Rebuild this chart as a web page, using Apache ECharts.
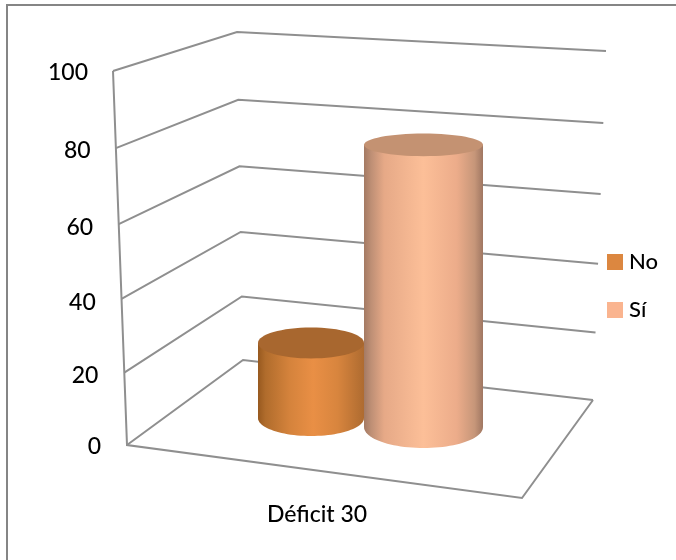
<!DOCTYPE html>
<html>
<head>
<meta charset="utf-8">
<style>html,body{margin:0;padding:0;background:#fff}#chart{width:676px;height:560px}</style>
<script src="https://cdn.jsdelivr.net/npm/echarts@6/dist/echarts.min.js"></script>
</head>
<body>
<div id="chart"></div>
<script>
const categories = ['Déficit 30'];
const noValues = [21];
const siValues = [79];
const tickValues = [0, 20, 40, 60, 80, 100];

const FONT = 'Lato';
const GRID = { left: 127, top: 71, width: 380, height: 374 };

// Corners of the three-dimensional box: [bottom, top] of each vertical edge.
const LEFT_EDGE = [[127, 445], [113, 71]];
const BACK_EDGE = [[243, 360], [237, 32]];
const RIGHT_EDGE = [[593, 400], [606, 51]];
const FRONT_RIGHT = [522, 498];

// Slight perspective compression of the height scale.
const warp = t => t - 0.04 * t * (1 - t);
const onEdge = (edge, t) => {
  const s = warp(t);
  return [edge[0][0] + (edge[1][0] - edge[0][0]) * s,
          edge[0][1] + (edge[1][1] - edge[0][1]) * s];
};

const lineStyle = { fill: 'none', stroke: '#8f8f8f', lineWidth: 2 };

function renderWall(params, api) {
  const v = api.value(1);
  const base = api.coord([0, 0])[1];
  const t = (base - api.coord([0, v])[1]) / GRID.height;
  const children = [{
    type: 'polyline',
    shape: { points: [onEdge(LEFT_EDGE, t), onEdge(BACK_EDGE, t), onEdge(RIGHT_EDGE, t)] },
    style: lineStyle
  }];
  if (v === 0) {
    children.push({
      type: 'polyline',
      shape: { points: [LEFT_EDGE[1], LEFT_EDGE[0], FRONT_RIGHT, RIGHT_EDGE[0]] },
      style: lineStyle
    });
  }
  return { type: 'group', children };
}

// Outline of a cylinder body: straight sides closed by the front half of the base ellipse.
function bodyOutline(cx, top, bottom, rx, ry) {
  const pts = [[cx - rx, top], [cx - rx, bottom]];
  for (let i = 1; i < 48; i++) {
    const a = Math.PI * i / 48;
    pts.push([cx - rx * Math.cos(a), bottom + ry * Math.sin(a)]);
  }
  pts.push([cx + rx, bottom], [cx + rx, top]);
  return pts;
}

function cylinder(look) {
  return function (params, api) {
    const c = api.coord([api.value(0), 0]);
    const h = api.size([0, api.value(1)])[1] * 0.955;
    const cx = c[0] + look.dx;
    const bottom = c[1] - look.rise;
    const top = bottom - h;
    const topRy = look.ry - h * 0.034;
    return {
      type: 'group',
      children: [{
        type: 'polygon',
        shape: { points: bodyOutline(cx, top, bottom, look.rx, look.ry) },
        style: {
          fill: new echarts.graphic.LinearGradient(0, 0, 1, 0, look.stops)
        }
      }, {
        type: 'ellipse',
        shape: { cx: cx, cy: top, rx: look.rx, ry: topRy },
        style: { fill: look.cap }
      }]
    };
  };
}

const noLook = {
  dx: -6, rise: 27, rx: 53, ry: 18, cap: '#A8672F',
  stops: [
    { offset: 0, color: '#97591F' }, { offset: 0.07, color: '#B06C2C' },
    { offset: 0.3, color: '#D5833C' }, { offset: 0.52, color: '#E98F45' },
    { offset: 0.75, color: '#D8853E' }, { offset: 1, color: '#AE6B30' }
  ]
};
const siLook = {
  dx: 106.5, rise: 18, rx: 59.5, ry: 21, cap: '#C49272',
  stops: [
    { offset: 0, color: '#A47A63' }, { offset: 0.06, color: '#BE8F75' },
    { offset: 0.17, color: '#E6A987' }, { offset: 0.5, color: '#FCBF98' },
    { offset: 0.78, color: '#ECAC8A' }, { offset: 0.93, color: '#C69679' },
    { offset: 1, color: '#A07762' }
  ]
};

const tickRich = {};
tickValues.forEach(v => {
  const t = v / 100;
  const down = 2 + 20 * t * (1 - t);
  tickRich['t' + v] = {
    fontFamily: FONT, fontSize: 23, fontWeight: 500, color: '#000',
    padding: [down * 2, 13 * t, 0, 0]
  };
});

const chart = echarts.init(document.getElementById('chart'), null, { renderer: 'canvas' });
chart.setOption({
  animation: false,
  backgroundColor: '#fff',
  grid: GRID,
  xAxis: {
    type: 'category',
    data: categories,
    axisLine: { show: false },
    axisTick: { show: false },
    axisLabel: { margin: 58, fontFamily: FONT, fontSize: 23, fontWeight: 500, color: '#000' }
  },
  yAxis: {
    type: 'value',
    min: 0,
    max: 100,
    interval: 20,
    axisLine: { show: false },
    axisTick: { show: false },
    splitLine: { show: false },
    axisLabel: { margin: 26, formatter: v => `{t${v}|${v}}`, rich: tickRich }
  },
  legend: {
    data: ['No', 'Sí'],
    orient: 'vertical',
    left: 607,
    top: 251,
    itemWidth: 16,
    itemHeight: 16,
    itemGap: 26,
    icon: 'rect',
    padding: 0,
    selectedMode: false,
    textStyle: { fontFamily: FONT, fontSize: 22, fontWeight: 500, color: '#000', padding: [0, 0, 0, 1] }
  },
  graphic: [
    { type: 'line', shape: { x1: 6, y1: 5, x2: 676, y2: 5 }, style: { stroke: '#858585', lineWidth: 2 } },
    { type: 'line', shape: { x1: 7, y1: 5, x2: 7, y2: 560 }, style: { stroke: '#858585', lineWidth: 2 } }
  ],
  series: [
    {
      type: 'custom',
      name: 'Escala',
      renderItem: renderWall,
      data: tickValues.map(v => [0, v]),
      encode: { x: 0, y: 1 },
      silent: true,
      z: 1
    },
    {
      type: 'custom',
      name: 'No',
      renderItem: cylinder(noLook),
      data: categories.map((c, i) => [i, noValues[i]]),
      encode: { x: 0, y: 1 },
      itemStyle: { color: '#DC8740' },
      z: 2
    },
    {
      type: 'custom',
      name: 'Sí',
      renderItem: cylinder(siLook),
      data: categories.map((c, i) => [i, siValues[i]]),
      encode: { x: 0, y: 1 },
      itemStyle: { color: '#FAB48F' },
      z: 3
    }
  ]
});
</script>
</body>
</html>
